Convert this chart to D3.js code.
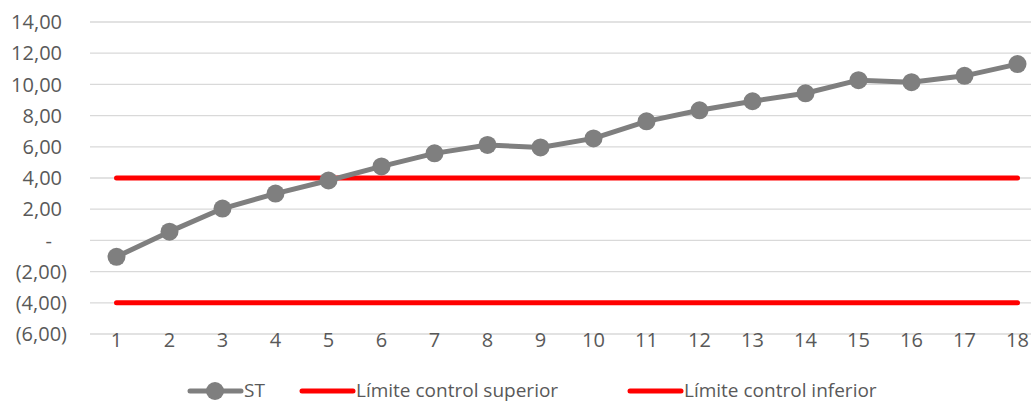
<!DOCTYPE html>
<html>
<head>
<meta charset="utf-8">
<script src="https://cdnjs.cloudflare.com/ajax/libs/d3/7.8.5/d3.min.js"></script>
<style>
  body { margin: 0; background: #fff; }
  text { font-family: "Open Sans", "Liberation Sans", sans-serif; fill: #595959; }
</style>
</head>
<body>
<script>
// chart values
const categories = d3.range(1, 19);
const stValues = [-1.05, 0.56, 2.04, 3.0, 3.84, 4.74, 5.58, 6.12, 5.96, 6.54,
                  7.63, 8.34, 8.92, 9.43, 10.27, 10.14, 10.55, 11.3];
const limitUpper = 4;
const limitLower = -4;
const yTicks = [-6, -4, -2, 0, 2, 4, 6, 8, 10, 12, 14];
const legendNames = ['ST', 'Límite control superior', 'Límite control inferior'];

const width = 1031, height = 403;

const svg = d3.select('body').append('svg')
    .attr('width', width)
    .attr('height', height);

const x = d3.scaleBand()
    .domain(categories)
    .range([90, 1044]);
const y = d3.scaleLinear()
    .domain([-6, 14])
    .range([334, 22]);

const num = v => d3.format('.2f')(v).replace('.', ',');
const fmt = v => v === 0 ? '-' : (v < 0 ? '(' + num(-v) + ')' : num(v));
// accounting-style alignment
const labelRight = v => v === 0 ? 52 : (v < 0 ? 67 : 62);

// gridlines
svg.append('g')
    .selectAll('line')
    .data(yTicks)
    .enter()
    .append('line')
    .attr('x1', 90)
    .attr('x2', width)
    .attr('y1', d => y(d))
    .attr('y2', d => y(d))
    .attr('stroke', '#d9d9d9')
    .attr('stroke-width', 1.3);

// y labels
svg.append('g')
    .selectAll('text')
    .data(yTicks)
    .enter()
    .append('text')
    .attr('x', labelRight)
    .attr('y', d => y(d))
    .attr('dy', '0.36em')
    .attr('text-anchor', 'end')
    .style('font-size', '20px')
    .text(fmt);

const cx = d => x(d) + x.bandwidth() / 2;

// x labels
svg.append('g')
    .selectAll('text')
    .data(categories)
    .enter()
    .append('text')
    .attr('x', cx)
    .attr('y', 347)
    .attr('text-anchor', 'middle')
    .style('font-size', '20px')
    .text(d => d);

// control limits
[limitUpper, limitLower].forEach(v => {
    svg.append('line')
        .attr('x1', cx(categories[0]))
        .attr('x2', cx(categories[categories.length - 1]))
        .attr('y1', y(v))
        .attr('y2', y(v))
        .attr('stroke', '#ff0000')
        .attr('stroke-width', 5)
        .attr('stroke-linecap', 'round');
});

// ST series
const line = d3.line()
    .x((d, i) => cx(categories[i]))
    .y(d => y(d));

svg.append('path')
    .datum(stValues)
    .attr('d', line)
    .attr('fill', 'none')
    .attr('stroke', '#7f7f7f')
    .attr('stroke-width', 5)
    .attr('stroke-linejoin', 'round');

svg.append('g')
    .selectAll('circle')
    .data(stValues)
    .enter()
    .append('circle')
    .attr('cx', (d, i) => cx(categories[i]))
    .attr('cy', d => y(d))
    .attr('r', 9)
    .attr('fill', '#7f7f7f');

// legend
const legendY = 391;
const legendItems = [
    { name: legendNames[0], x0: 190, color: '#7f7f7f', marker: true },
    { name: legendNames[1], x0: 302, color: '#ff0000', marker: false },
    { name: legendNames[2], x0: 630, color: '#ff0000', marker: false }
];
const lg = svg.append('g')
    .selectAll('g')
    .data(legendItems)
    .enter()
    .append('g');

lg.append('line')
    .attr('x1', d => d.x0)
    .attr('x2', d => d.x0 + 51)
    .attr('y1', legendY)
    .attr('y2', legendY)
    .attr('stroke', d => d.color)
    .attr('stroke-width', 5)
    .attr('stroke-linecap', 'round');

lg.filter(d => d.marker)
    .append('circle')
    .attr('cx', d => d.x0 + 25)
    .attr('cy', legendY)
    .attr('r', 9)
    .attr('fill', d => d.color);

lg.append('text')
    .attr('x', d => d.x0 + 54)
    .attr('y', 397)
    .style('font-size', '19px')
    .text(d => d.name);
</script>
</body>
</html>
